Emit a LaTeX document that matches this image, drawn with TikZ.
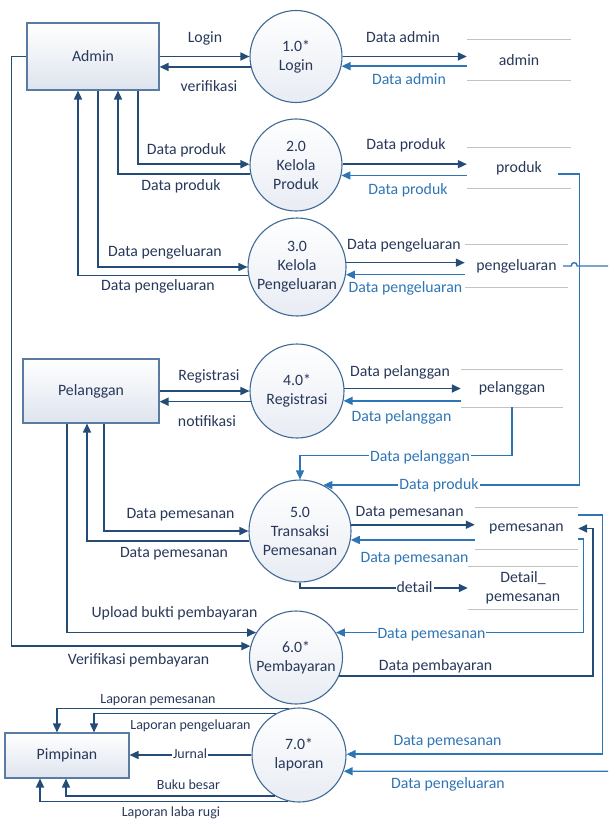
\documentclass[tikz,border=0pt]{standalone}
\usepackage{fontspec}
\setmainfont{Carlito}
\usetikzlibrary{arrows.meta}
\definecolor{dkline}{RGB}{37,76,118}
\definecolor{ltline}{RGB}{46,117,182}
\definecolor{txt}{RGB}{40,56,90}
\definecolor{ebord}{RGB}{90,124,163}
\definecolor{cbord}{RGB}{65,105,150}
\definecolor{efill}{RGB}{222,228,238}
\definecolor{sline}{RGB}{195,195,195}
\begin{document}
\begin{tikzpicture}[x=1pt,y=-1pt,
  every node/.style={font=\fontsize{15.8}{19}\selectfont, text=txt},
  ent/.style={draw=ebord, line width=1.1pt, top color=white, bottom color=efill, inner sep=0pt, align=center},
  proc/.style={circle, draw=cbord, line width=1.1pt, top color=white, bottom color=efill!70, inner sep=0pt, align=center},
  store/.style={inner sep=0pt, align=center},
  sl/.style={draw=sline, line width=1.3pt},
  dk/.style={draw=dkline, line width=1.6pt, -{Triangle[length=9pt,width=8pt]}},
  lt/.style={draw=ltline, line width=1.4pt, -{Triangle[length=9pt,width=8pt]}},
  dl/.style={text=txt, inner sep=1pt, text height=11pt, text depth=3.5pt},
  ll/.style={text=ltline, inner sep=1pt, text height=11pt, text depth=3.5pt},
  onl/.style={fill=white},
  sm/.style={font=\fontsize{14}{16}\selectfont}
]
\useasboundingbox (0,0) rectangle (608,821);
\clip (0,0) rectangle (608,821);

% external entities
\node[ent, minimum width=132pt, minimum height=67pt] (admin) at (93,56.5) {Admin};
\node[ent, minimum width=136pt, minimum height=64pt] (pel) at (91,391) {Pelanggan};
\node[ent, minimum width=124pt, minimum height=45pt] (pim) at (67,755.5) {Pimpinan};

% processes
\node[proc, minimum size=92pt] (c1) at (296,56.5) {1.0*\\Login};
\node[proc, minimum size=92pt] (c2) at (296,165) {2.0\\Kelola\\Produk};
\node[proc, minimum size=98pt] (c3) at (297,267) {3.0\\Kelola\\Pengeluaran};
\node[proc, minimum size=94pt] (c4) at (297,391) {4.0*\\Registrasi};
\node[proc, minimum size=102pt] (c5) at (300,531) {5.0\\Transaksi\\Pemesanan};
\node[proc, minimum size=93pt] (c6) at (296,657.5) {6.0*\\Pembayaran};
\node[proc, minimum size=94pt] (c7) at (299,755) {7.0*\\laporan};

% data stores
\node[store, minimum width=104pt, minimum height=40pt] (sadm) at (519,60) {admin};
\node[store, minimum width=104pt, minimum height=40pt] (sprod) at (519,168) {produk};
\node[store, minimum width=103pt, minimum height=42pt] (speng) at (516.5,266) {pengeluaran};
\node[store, minimum width=102pt, minimum height=37pt] (spel) at (512,388.5) {pelanggan};
\node[store, minimum width=103pt, minimum height=41pt] (spem) at (526.5,528.5) {pemesanan};
\node[store, minimum width=110pt, minimum height=42pt] (sdet) at (523,588) {Detail\_\\pemesanan};
\foreach \s in {sadm,sprod,speng,spel,spem,sdet}{
  \draw[sl] (\s.north west) -- (\s.north east);
  \draw[sl] (\s.south west) -- (\s.south east);
}

% Admin <-> 1.0
\draw[dk] (admin.east) -- (c1.west);
\draw[dk] (c1.193) -- (c1.193 -| admin.east);
\draw[dk] (c1.east) -- (c1.east -| sadm.west);
\draw[lt] (sadm.west |- c1.-12) -- (c1.-12);
% Admin <-> 2.0
\draw[dk] ([xshift=45pt]admin.south) |- (c2.179);
\draw[dk] (c2.191) -| ([xshift=25pt]admin.south);
\draw[dk] (c2.1) -- (c2.1 -| sprod.west);
\draw[lt] (sprod.west |- c2.-13) -- (c2.-13);
% Admin <-> 3.0
\draw[dk] ([xshift=5pt]admin.south) |- (c3.west);
\draw[dk] (c3.190) -| ([xshift=-15pt]admin.south);
\draw[dk] (c3.5) -- (c3.5 -| speng.west);
\draw[lt] (speng.west |- c3.-9) -- (c3.-9);
% Admin -> 6.0
\draw[dk] (admin.west) -- ++(-15,0) |- (c6.166);
% Pelanggan <-> 4.0
\draw[dk] (pel.east) -- (c4.west);
\draw[dk] (c4.193) -- (c4.193 -| pel.east);
\draw[dk] (c4.3) -- (c4.3 -| spel.west);
\draw[lt] (spel.west |- c4.-12) -- (c4.-12);
% stores -> 5.0
\draw[lt] (spel.south) -- ++(0,48.5) -| (c5.north);
\draw[lt] ([xshift=-13pt,yshift=-6pt]sprod.east) -- ++(21,0) |- (c5.63);
% Pelanggan <-> 5.0
\draw[dk] ([xshift=13pt]pel.south) |- (c5.west);
\draw[dk] (c5.191) -| ([xshift=-4pt]pel.south);
\draw[dk] ([xshift=-24pt]pel.south) |- (c6.148);
% 5.0 <-> stores
\draw[dk] (c5.7) -- (c5.7 -| spem.west);
\draw[lt] (spem.west |- c5.-10) -- (c5.-10);
\draw[dk] (c5.south) |- (sdet.west);
% pemesanan store <-> 6.0 / 7.0
\draw[lt] ([yshift=-10.5pt]spem.east) -- ++(5,0) |- (c6.32);
\draw[dk] (c6.-23) -| ([xshift=15pt]spem.east) -- (spem.east);
\draw[lt] ([yshift=13.5pt]spem.east) -- ++(24,0) |- (c7.1);
% pengeluaran store -> 7.0 (with hop over the produk line)
\draw[lt] ([xshift=-5pt]speng.east) -- ++(8,0) .. controls +(0,-4.5) and +(0,-4.5) .. ++(6,0) -- ++(40,0) |- (c7.-20);
% 7.0 -> Pimpinan
\draw[dk] (c7.102) -| ([xshift=-10pt]pim.north);
\draw[dk] (c7.119) -| ([xshift=27pt]pim.north);
\draw[dk] (c7.west) -- (c7.west -| pim.east);
\draw[dk] (c7.240) -| ([xshift=-1pt]pim.south);
\draw[dk] (c7.257) -| ([xshift=-27pt]pim.south);

% labels
\node[dl] (lLogin) at (205,39) {Login};
\node[dl] (lVer) at (209,88) {verifikasi};
\node[dl] (lDA1) at (403,39) {Data admin};
\node[ll] (lDA2) at (409,81) {Data admin};
\node[dl] (lDP1) at (186.5,151) {Data produk};
\node[dl] (lDP2) at (181,187) {Data produk};
\node[dl] (lDG1) at (165,253) {Data pengeluaran};
\node[dl] (lDG2) at (158,287) {Data pengeluaran};
\node[dl] (lDP3) at (406,146) {Data produk};
\node[ll] (lDP4) at (408,191) {Data produk};
\node[dl] (lDG3) at (404,245.5) {Data pengeluaran};
\node[ll] (lDG4) at (405.5,289) {Data pengeluaran};
\node[dl] (lReg) at (209,377) {Registrasi};
\node[dl] (lNot) at (207,423) {notifikasi};
\node[dl] (lPl1) at (400,373) {Data pelanggan};
\node[ll] (lPl2) at (401.5,418) {Data pelanggan};
\node[ll,onl] (lPl3) at (420,457.5) {Data pelanggan};
\node[ll,onl] (lDP5) at (439,485.6) {Data produk};
\node[dl] (lPm1) at (180.5,515) {Data pemesanan};
\node[dl] (lPm2) at (174,554) {Data pemesanan};
\node[dl] (lUp) at (174.5,614) {Upload bukti pembayaran};
\node[dl] (lVp) at (138.5,661) {Verifikasi pembayaran};
\node[dl] (lPm3) at (409.6,512.7) {Data pemesanan};
\node[ll] (lPm4) at (414.5,559) {Data pemesanan};
\node[dl,onl] (lDet) at (414.5,588.7) {detail};
\node[ll,onl] (lPm5) at (431.5,635) {Data pemesanan};
\node[dl] (lPb) at (435.5,667) {Data pembayaran};
\node[ll] (lPm6) at (447.5,742) {Data pemesanan};
\node[ll] (lDG5) at (448,785) {Data pengeluaran};
\node[dl,sm] (lLp1) at (158,700) {Laporan pemesanan};
\node[dl,sm] (lLp2) at (190.5,725.7) {Laporan pengeluaran};
\node[dl,sm,onl] (lJur) at (190,755) {Jurnal};
\node[dl,sm] (lBb) at (188.5,785.7) {Buku besar};
\node[dl,sm] (lLr) at (171,813) {Laporan laba rugi};
\end{tikzpicture}
\end{document}
